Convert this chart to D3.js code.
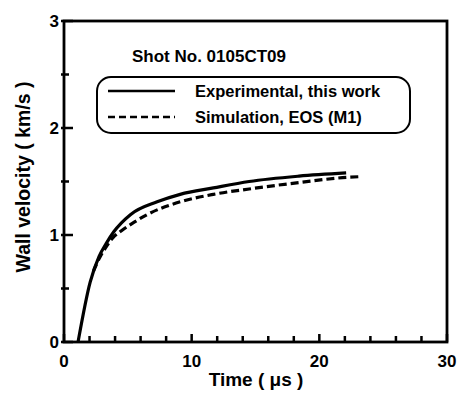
<!DOCTYPE html>
<html>
<head>
<meta charset="utf-8">
<script src="https://cdn.jsdelivr.net/npm/d3@7"></script>
<style>
  body { margin: 0; background: #fff; }
  text { font-family: Arial, "Liberation Sans", sans-serif; font-weight: bold; fill: #000; }
</style>
</head>
<body>
<svg id="chart" width="458" height="396"></svg>
<script>
// values
const timeExp = [1.1, 2.05, 2.75, 3.3, 3.9, 5.2, 7.3, 9.1, 11.7, 14.5, 18.4, 22.1]
const velExp = [0, 0.56, 0.80, 0.92, 1.03, 1.19, 1.31, 1.38, 1.44, 1.50, 1.55, 1.58]
const timeSim = [2.3, 2.8, 3.25, 3.8, 4.5, 5.5, 6.5, 9.1, 11.7, 14.5, 18.4, 22.3, 23.2]
const velSim = [0.66, 0.79, 0.88, 0.97, 1.04, 1.12, 1.19, 1.31, 1.38, 1.43, 1.49, 1.54, 1.545]
const xMajor = [0, 10, 20, 30]
const yMajor = [0, 1, 2, 3]
const xMinor = [2, 4, 6, 8, 12, 14, 16, 18, 22, 24, 26, 28]
const yMinor = [0.5, 1.5, 2.5]
const legendLabels = ['Experimental, this work', 'Simulation, EOS (M1)']
const shotLabel = 'Shot No. 0105CT09'

const translate = (a, b) => 'translate(' + a + ',' + b + ')'

const svg = d3.select('#chart')
const m = { left: 64, right: 447, top: 21, bottom: 342 }

const x = d3.scaleLinear().domain([0, 30]).range([m.left, m.right])
const y = d3.scaleLinear().domain([0, 3]).range([m.bottom, m.top])

// frame
svg.append('rect')
  .attr('x', m.left).attr('y', m.top)
  .attr('width', m.right - m.left).attr('height', m.bottom - m.top)
  .attr('fill', 'none').attr('stroke', '#000').attr('stroke-width', 2.8)

// inward ticks, one path for both axes
const xTicks = xMajor.concat(xMinor)
const yTicks = yMajor.concat(yMinor)
const xTickPath = xTicks.map(d => 'M' + x(d) + ',' + m.bottom + 'v' + (d % 10 === 0 ? -8 : -6)).join('')
const yTickPath = yTicks.map(d => 'M' + (m.left - 3) + ',' + y(d) + 'h' + (Number.isInteger(d) ? 12 : 8)).join('')
svg.append('path').attr('d', xTickPath + yTickPath)
  .attr('fill', 'none').attr('stroke', '#000').attr('stroke-width', 2.5)

// tick labels
svg.selectAll('text.xlab').data(xMajor).enter().append('text')
  .attr('class', 'xlab')
  .attr('x', d => x(d)).attr('y', 367)
  .attr('text-anchor', 'middle').attr('font-size', 17)
  .text(d => d)
svg.selectAll('text.ylab').data(yMajor).enter().append('text')
  .attr('class', 'ylab')
  .attr('x', 59).attr('y', d => y(d) + 6)
  .attr('text-anchor', 'end').attr('font-size', 17)
  .text(d => d)

// axis titles
svg.append('text').attr('x', 256).attr('y', 386)
  .attr('text-anchor', 'middle').attr('font-size', 19)
  .text('Time ( \u03bcs )')
svg.append('text')
  .attr('transform', translate(30, 177) + ' rotate(-90)')
  .attr('text-anchor', 'middle').attr('font-size', 19.5)
  .text('Wall velocity  ( km/s )')

// curves
const line = d3.line().curve(d3.curveMonotoneX)
  .x(d => x(d[0])).y(d => y(d[1]))

svg.append('path')
  .datum(d3.zip(timeSim, velSim))
  .attr('d', line)
  .attr('fill', 'none').attr('stroke', '#000').attr('stroke-width', 3.2)
  .attr('stroke-dasharray', '8,4')

svg.append('path')
  .datum(d3.zip(timeExp, velExp))
  .attr('d', line)
  .attr('fill', 'none').attr('stroke', '#000').attr('stroke-width', 3.2)

// label and legend
svg.append('text').attr('x', 132).attr('y', 62).attr('font-size', 17)
  .text(shotLabel)

svg.append('rect')
  .attr('x', 97).attr('y', 77).attr('width', 313).attr('height', 56)
  .attr('rx', 14).attr('ry', 14)
  .attr('fill', '#fff').attr('stroke', '#000').attr('stroke-width', 2)

const leg = svg.selectAll('g.leg').data(legendLabels).enter().append('g')
  .attr('class', 'leg')
  .attr('transform', (d, i) => translate(0, 91 + i * 26))
leg.append('line')
  .attr('x1', 108).attr('x2', 175)
  .attr('stroke', '#000').attr('stroke-width', 2.5)
  .attr('stroke-dasharray', (d, i) => (i === 1 ? '7,4' : null))
leg.append('text').attr('x', 195).attr('y', 6).attr('font-size', 16.5)
  .text(d => d)
</script>
</body>
</html>
